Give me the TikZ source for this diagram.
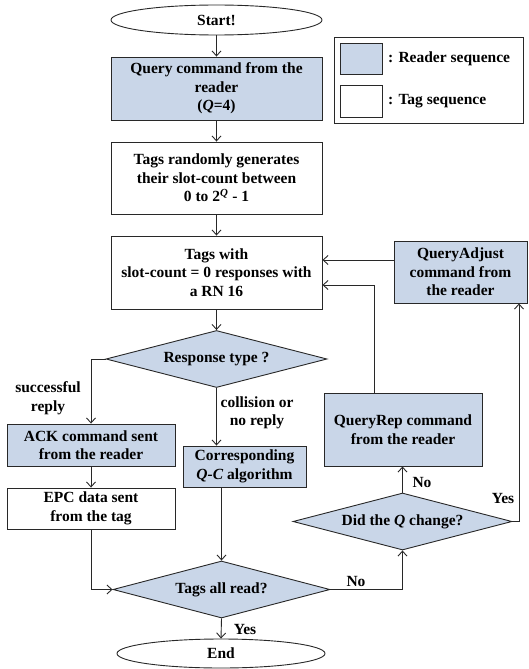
\documentclass[tikz,border=0pt]{standalone}
\usepackage{fontspec}
\setmainfont{Liberation Serif}
\usetikzlibrary{shapes.geometric,arrows.meta}
\definecolor{rdblue}{RGB}{201,214,232}
\definecolor{ln}{RGB}{40,40,40}
\tikzset{
  base/.style={draw=ln, line width=0.9pt, font=\fontsize{15.5}{18.5}\selectfont\bfseries, align=center, inner sep=0pt, text=black},
  rbox/.style={base, rectangle, fill=rdblue},
  tbox/.style={base, rectangle, fill=white},
  dia/.style={base, diamond, fill=rdblue, aspect=3.9},
  oval/.style={base, ellipse, fill=white},
  arr/.style={draw=ln, line width=0.9pt, -{Straight Barb[length=5pt,width=9pt]}},
  lin/.style={draw=ln, line width=0.9pt},
  lbl/.style={font=\fontsize{15.5}{18.5}\selectfont\bfseries, align=center, inner sep=0pt}
}
\begin{document}
\begin{tikzpicture}[x=1pt,y=-1pt]
\useasboundingbox (0,0) rectangle (528,669);
% nodes
\node[oval, minimum width=211pt, minimum height=30pt] (start) at (216.5,20) {Start!};
\node[rbox, minimum width=211pt, minimum height=63pt] (query) at (216.5,88.5) {Query command from the\\reader\\(\textit{Q}=4)};
\node[tbox, minimum width=211pt, minimum height=72pt] (rand) at (216.5,178) {Tags randomly generates\\their slot-count between\\0 to 2\textsuperscript{\textit{Q}} - 1};
\node[tbox, minimum width=211pt, minimum height=73pt] (tw) at (216.5,272.5) {Tags with\\slot-count = 0 responses with\\a RN 16};
\node[dia, minimum width=221pt, minimum height=57pt] (resp) at (216.5,359) {Response type ?};
\node[rbox, minimum width=168pt, minimum height=42pt] (ack) at (91,445) {ACK command sent\\from the reader};
\node[tbox, minimum width=168pt, minimum height=41pt] (epc) at (91,508.5) {EPC data sent\\from the tag};
\node[rbox, minimum width=123pt, minimum height=41pt] (corr) at (244.5,466.5) {Corresponding\\\textit{Q-C} algorithm};
\node[dia, minimum width=217pt, minimum height=57pt] (all) at (221.5,589.5) {Tags all read?};
\node[oval, minimum width=208pt, minimum height=29pt] (end) at (221,653.5) {End};
\node[dia, minimum width=219pt, minimum height=57pt] (did) at (402.5,521.5) {Did the \textit{Q} change?};
\node[rbox, minimum width=158pt, minimum height=73pt] (qrep) at (403,429.5) {QueryRep command\\from the reader};
\node[rbox, minimum width=133pt, minimum height=62pt] (qadj) at (460.5,272) {QueryAdjust\\command from\\the reader};
% legend
\node[draw=ln, line width=0.9pt, fill=white, minimum width=189pt, minimum height=86pt, inner sep=0pt] (leg) at (428.5,80) {};
\node[rbox, minimum width=42pt, minimum height=31pt] (sw1) at (361,58.5) {};
\node[tbox, minimum width=42pt, minimum height=32pt] (sw2) at (361,101) {};
\node[lbl, anchor=west] (l1) at (388,59) {: Reader sequence};
\node[lbl, anchor=west] (l2) at (388,101) {: Tag sequence};
% helper coordinates
\coordinate (c374) at (374,0);
\coordinate (c285) at (0,285);
\coordinate (c260) at (0,260);
\coordinate (c519) at (519,0);
% connectors
\draw[arr] (start) -- (query);
\draw[arr] (query) -- (rand);
\draw[arr] (rand) -- (tw);
\draw[arr] (tw) -- (resp);
\draw[arr] (resp.west) -| (ack.north);
\draw[arr] (resp.south) -- (resp.south |- corr.north);
\draw[arr] (ack) -- (epc);
\draw[arr] (all.north |- corr.south) -- (all.north);
\draw[arr] (epc.south) |- (all.west);
\draw[arr] (all.east) -| (did.south);
\draw[arr] (did.north) -- (did.north |- qrep.south);
\draw[arr] (did.east) -| (qadj.south -| c519);
\draw[arr] (qrep.north -| c374) |- (tw.east |- c285);
\draw[arr] (qadj.west |- c260) -- (tw.east |- c260);
\draw[arr] (all.south) -- (end.north);
% labels
\node[lbl] (ls) at (48,398) {successful\\reply};
\node[lbl] (lc) at (257,413) {collision or\\no reply};
\node[lbl] (ly1) at (245,629) {Yes};
\node[lbl] (ln1) at (356,581) {No};
\node[lbl] (ln2) at (422,482) {No};
\node[lbl] (ly2) at (503,498) {Yes};
\end{tikzpicture}
\end{document}
